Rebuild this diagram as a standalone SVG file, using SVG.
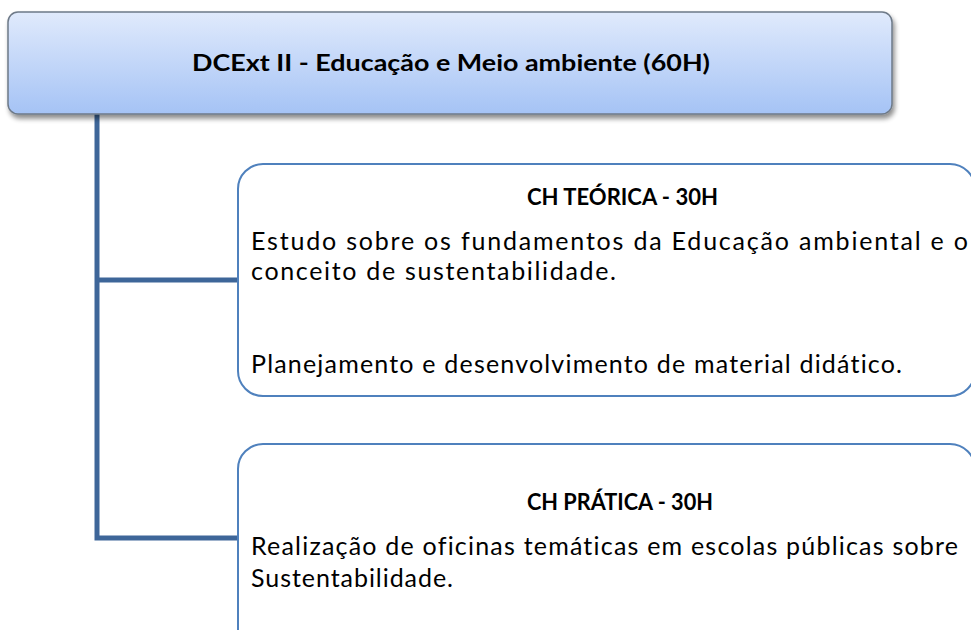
<svg xmlns="http://www.w3.org/2000/svg" width="971" height="630" viewBox="0 0 971 630">
  <defs>
    <linearGradient id="topGrad" x1="0" y1="0" x2="0" y2="1">
      <stop offset="0" stop-color="#e0eafc"/>
      <stop offset="1" stop-color="#a5c3f5"/>
    </linearGradient>
    <filter id="shadow" x="-5%" y="-20%" width="110%" height="150%">
      <feGaussianBlur in="SourceAlpha" stdDeviation="2.5"/>
      <feOffset dx="2" dy="4" result="b"/>
      <feComponentTransfer><feFuncA type="linear" slope="0.45"/></feComponentTransfer>
      <feMerge><feMergeNode/><feMergeNode in="SourceGraphic"/></feMerge>
    </filter>
  </defs>
  <style>
    .box { fill: #ffffff; stroke: #4f81bd; stroke-width: 2; }
    .conn { fill: none; stroke: #3e6699; stroke-width: 5; }
    .t { font-family: Lato, "Liberation Sans", sans-serif; font-size: 25px; fill: #000000; font-variant-ligatures: none; }
    .h { font-family: Lato, "Liberation Sans", sans-serif; font-size: 23px; font-weight: bold; fill: #000000; text-anchor: middle; font-variant-ligatures: none; }
  </style>
  <rect width="971" height="630" fill="#ffffff"/>

  <g id="connectors">
    <path class="conn" d="M97,114 V538 H240"/>
    <path class="conn" d="M97,280 H240"/>
  </g>

  <g id="node-root">
    <rect x="8" y="12" width="884" height="102" rx="10" ry="10" fill="url(#topGrad)" stroke="#6e7a88" stroke-width="1.5" filter="url(#shadow)"/>
    <text class="h" x="451" y="71" font-size="24" textLength="518" lengthAdjust="spacingAndGlyphs">DCExt II - Educação e Meio ambiente (60H)</text>
  </g>

  <g id="node-teorica">
    <rect class="box" x="238" y="164" width="737" height="232" rx="25" ry="25"/>
    <text class="h" x="622.5" y="205" textLength="191" lengthAdjust="spacingAndGlyphs">CH TEÓRICA - 30H</text>
    <text class="t" x="251" y="250" textLength="717" lengthAdjust="spacing">Estudo sobre os fundamentos da Educação ambiental e o</text>
    <text class="t" x="251" y="280" textLength="365" lengthAdjust="spacing">conceito de sustentabilidade.</text>
    <text class="t" x="251" y="373" textLength="651" lengthAdjust="spacing">Planejamento e desenvolvimento de material didático.</text>
  </g>

  <g id="node-pratica">
    <rect class="box" x="238" y="444" width="737" height="210" rx="25" ry="25"/>
    <text class="h" x="620" y="510" textLength="186" lengthAdjust="spacingAndGlyphs">CH PRÁTICA - 30H</text>
    <text class="t" x="251" y="555" textLength="707" lengthAdjust="spacing">Realização de oficinas temáticas em escolas públicas sobre</text>
    <text class="t" x="251" y="587" textLength="202" lengthAdjust="spacing">Sustentabilidade.</text>
  </g>
</svg>
